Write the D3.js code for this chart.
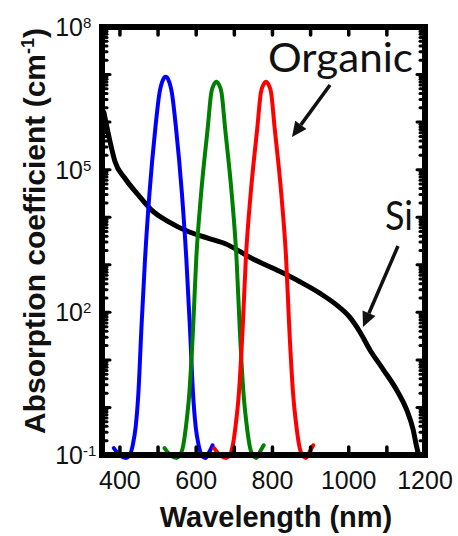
<!DOCTYPE html>
<html>
<head>
<meta charset="utf-8">
<script src="https://cdnjs.cloudflare.com/ajax/libs/d3/7.8.5/d3.min.js"></script>
<style>
  html, body { margin: 0; padding: 0; background: #fff; }
  svg { display: block; }
</style>
</head>
<body>
<svg id="chart" width="458" height="536"></svg>
<script>
// wavelength (nm) / absorption coefficient (cm^-1)
const siWl = [358, 374, 387, 413, 448, 483, 527, 579, 632, 675, 749, 820, 872, 925, 968, 1002, 1029, 1056, 1091, 1126, 1152, 1169, 1178, 1182];
const siAbs = [1.6e6, 3.9e5, 1.48e5, 6.6e4, 2.95e4, 1.41e4, 8.1e3, 5.0e3, 3.6e3, 2.8e3, 1.32e3, 720, 440, 250, 143, 80, 39, 16, 6.2, 2.3, 0.89, 0.34, 0.15, 0.11];

const blueWl = [384, 399, 415, 425.6, 433.5, 441.3, 448.4, 456.5, 465.7, 477.5, 493.2, 503.7, 512.7, 520, 527.3, 536.3, 546.8, 562.5, 574.3, 583.5, 591.6, 598.7, 606.5, 614.4, 625, 635.4, 643];
const blueAbs = [0.14, 0.1, 0.087, 0.1, 0.16, 0.39, 2.0, 49, 1.26e3, 3.2e4, 7.9e5, 4.1e6, 7.7e6, 9.0e6, 7.7e6, 4.1e6, 7.9e5, 3.2e4, 1.26e3, 49, 2.0, 0.39, 0.16, 0.1, 0.087, 0.12, 0.16];

const greenWl = [517, 532, 548, 558, 566, 573, 582, 592, 600, 613, 630.5, 639.4, 647, 653, 659, 666.6, 675.5, 693, 706, 714, 724, 733, 740, 748, 758, 768, 777];
const greenAbs = [0.14, 0.1, 0.087, 0.1, 0.16, 0.39, 2.0, 49, 1.26e3, 3.2e4, 7.9e5, 4.1e6, 6.3e6, 7.1e6, 6.3e6, 4.1e6, 7.9e5, 3.2e4, 1.26e3, 49, 2.0, 0.39, 0.16, 0.1, 0.087, 0.12, 0.16];

const redWl = [647, 662, 678, 688, 696, 703, 712, 722, 730, 743, 760.5, 769.4, 777, 783, 789, 796.6, 805.5, 823, 836, 844, 854, 863, 870, 878, 888, 898, 907];
const redAbs = [0.14, 0.1, 0.087, 0.1, 0.16, 0.39, 2.0, 49, 1.26e3, 3.2e4, 7.9e5, 4.1e6, 6.3e6, 7.1e6, 6.3e6, 4.1e6, 7.9e5, 3.2e4, 1.26e3, 49, 2.0, 0.39, 0.16, 0.1, 0.087, 0.12, 0.16];

const xTicks = [400, 600, 800, 1000, 1200];
const xMinorTicks = [400, 500, 600, 700, 800, 900, 1000, 1100];
const yExps = [-1, 2, 5, 8];

(function () {
  const svg = d3.select("#chart");
  const left = 102, right = 425, top = 27, bottom = 455;

  const x = d3.scaleLinear().domain([353, 1200]).range([left, right]);
  const y = d3.scaleLog().domain([0.1, 1e8]).range([bottom, top]);

  const line = d3.line()
    .x(d => x(d[0]))
    .y(d => y(d[1]))
    .curve(d3.curveMonotoneX);

  const zip = (a, b) => a.map((v, i) => [v, b[i]]);

  // curves
  const series = [
    { pts: zip(siWl, siAbs), color: "#000", w: 5 },
    { pts: zip(blueWl, blueAbs), color: "#0000ff", w: 4 },
    { pts: zip(greenWl, greenAbs), color: "#008000", w: 4 },
    { pts: zip(redWl, redAbs), color: "#ff0000", w: 4 }
  ];
  svg.append("g").selectAll("path")
    .data(series)
    .enter().append("path")
      .attr("d", d => line(d.pts))
      .attr("fill", "none")
      .attr("stroke", d => d.color)
      .attr("stroke-width", d => d.w)
      .attr("stroke-linecap", "round")
      .attr("stroke-linejoin", "round");

  // frame + inward ticks
  const frame = svg.append("g").attr("stroke", "#000").attr("stroke-linecap", "round");
  frame.append("rect")
    .attr("x", left).attr("y", top)
    .attr("width", right - left).attr("height", bottom - top)
    .attr("fill", "none").attr("stroke-width", 6);

  frame.selectAll(".xt")
    .data(xMinorTicks)
    .enter().append("g")
    .each(function (d) {
      const g = d3.select(this);
      g.append("line").attr("x1", x(d)).attr("x2", x(d)).attr("y1", bottom).attr("y2", bottom - 8).attr("stroke-width", 3.5);
      g.append("line").attr("x1", x(d)).attr("x2", x(d)).attr("y1", top).attr("y2", top + 8).attr("stroke-width", 3.5);
    });

  const yMinor = [];
  for (let e = -1; e < 8; e++) {
    for (let m = 1; m < 10; m++) yMinor.push({ v: m * Math.pow(10, e), major: m === 1 });
  }
  yMinor.push({ v: 1e8, major: true });
  frame.selectAll(".yt")
    .data(yMinor)
    .enter().append("g")
    .each(function (d) {
      const g = d3.select(this);
      const len = d.major ? 8 : 5;
      g.append("line").attr("x1", left).attr("x2", left + len).attr("y1", y(d.v)).attr("y2", y(d.v)).attr("stroke-width", 3);
      g.append("line").attr("x1", right).attr("x2", right - len).attr("y1", y(d.v)).attr("y2", y(d.v)).attr("stroke-width", 3);
    });

  // tick labels
  svg.append("g")
    .selectAll("text")
    .data(xTicks)
    .enter().append("text")
      .attr("x", d => x(d))
      .attr("y", 489)
      .attr("text-anchor", "middle")
      .attr("font-family", "Liberation Sans, Arial, sans-serif")
      .attr("font-size", 25)
      .attr("fill", "#111")
      .text(d => d);

  const yl = svg.append("g")
    .attr("font-family", "Liberation Sans, Arial, sans-serif")
    .attr("fill", "#111");
  yExps.forEach(function (e) {
    const yy = y(Math.pow(10, e));
    yl.append("text")
      .attr("x", 83).attr("y", yy + 9)
      .attr("text-anchor", "end")
      .attr("font-size", 25)
      .text("10");
    yl.append("text")
      .attr("x", 83).attr("y", yy + 1)
      .attr("font-size", 15)
      .text(e < 0 ? "-" + (-e) : e);
  });

  // axis titles
  svg.append("text")
    .attr("x", 276).attr("y", 527)
    .attr("text-anchor", "middle")
    .attr("font-family", "Liberation Sans, Arial, sans-serif")
    .attr("font-weight", "bold")
    .attr("font-size", 29)
    .attr("fill", "#111")
    .text("Wavelength (nm)");

  const yt = svg.append("text")
    .attr("transform", "translate(45,231) rotate(-90)")
    .attr("text-anchor", "middle")
    .attr("font-family", "Liberation Sans, Arial, sans-serif")
    .attr("font-weight", "bold")
    .attr("font-size", 30)
    .attr("fill", "#111");
  yt.append("tspan").text("Absorption coefficient (cm");
  yt.append("tspan").attr("dy", -11).attr("font-size", 18).text("-1");
  yt.append("tspan").attr("dy", 11).text(")");

  // annotations
  const ann = svg.append("g")
    .attr("font-family", "Lato, Open Sans, sans-serif")
    .attr("fill", "#111");
  ann.append("text").attr("x", 268).attr("y", 72).attr("font-size", 40)
    .attr("textLength", 145).attr("lengthAdjust", "spacingAndGlyphs").text("Organic");
  ann.append("text").attr("x", 385).attr("y", 230).attr("font-size", 40)
    .attr("textLength", 28).attr("lengthAdjust", "spacingAndGlyphs").text("Si");

  const arrows = [
    { x1: 330, y1: 85, x2: 292, y2: 137 },
    { x1: 398, y1: 246, x2: 363, y2: 327 }
  ];
  arrows.forEach(function (a) {
    const ang = Math.atan2(a.y2 - a.y1, a.x2 - a.x1);
    const L = 15, W = 7;
    const bx = a.x2 - L * Math.cos(ang), by = a.y2 - L * Math.sin(ang);
    svg.append("line")
      .attr("x1", a.x1).attr("y1", a.y1).attr("x2", bx).attr("y2", by)
      .attr("stroke", "#111").attr("stroke-width", 3.5);
    const px = -Math.sin(ang) * W, py = Math.cos(ang) * W;
    svg.append("path")
      .attr("d", `M${a.x2},${a.y2}L${bx + px},${by + py}L${bx - px},${by - py}Z`)
      .attr("fill", "#111");
  });
})();
</script>
</body>
</html>
